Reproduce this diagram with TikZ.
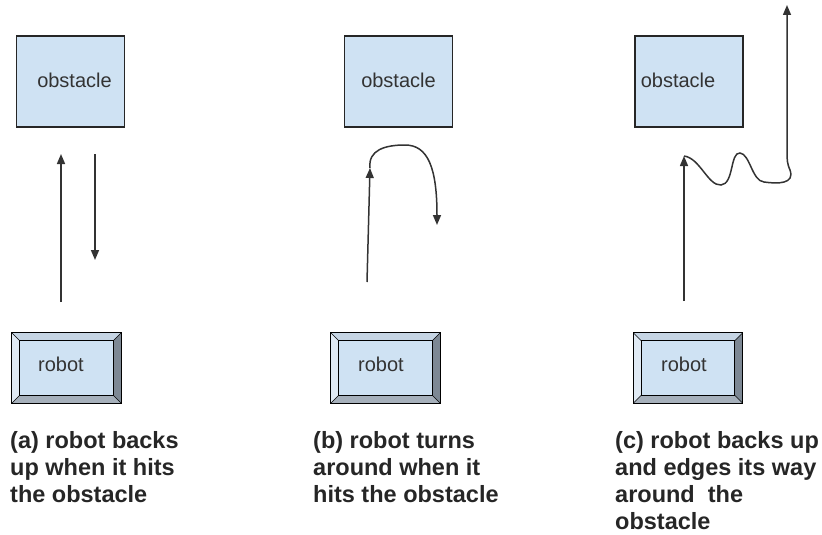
\documentclass[tikz,border=0pt]{standalone}
\usepackage{fontspec}
\setmainfont{Liberation Sans}
\usetikzlibrary{arrows.meta, calc}

\definecolor{boxblue}{HTML}{CFE2F3}
\definecolor{beveltop}{HTML}{C6D5E4}
\definecolor{bevelleft}{HTML}{E0EAF4}
\definecolor{bevelright}{HTML}{7D8894}
\definecolor{bevelbottom}{HTML}{A6B0BB}

% bevel frame drawn round a robot node
\newcommand{\bevelframe}[1]{%
    \fill[beveltop] (#1.north west) -- (#1.north east) -- ($(#1.north east)+(-8,8)$) -- ($(#1.north west)+(8,8)$) -- cycle;
    \fill[bevelleft] (#1.north west) -- ($(#1.north west)+(8,8)$) -- ($(#1.south west)+(8,-8)$) -- (#1.south west) -- cycle;
    \fill[bevelright] (#1.north east) -- ($(#1.north east)+(-8,8)$) -- ($(#1.south east)+(-8,-8)$) -- (#1.south east) -- cycle;
    \fill[bevelbottom] (#1.south west) -- ($(#1.south west)+(8,-8)$) -- ($(#1.south east)+(-8,-8)$) -- (#1.south east) -- cycle;
    \draw[line width=1.3pt] (#1.north west) rectangle (#1.south east);
    \draw[line width=1.3pt] ($(#1.north west)+(8,8)$) rectangle ($(#1.south east)+(-8,-8)$);
    \draw[line width=0.6pt] (#1.north west) -- ($(#1.north west)+(8,8)$)
        (#1.north east) -- ($(#1.north east)+(-8,8)$)
        (#1.south west) -- ($(#1.south west)+(8,-8)$)
        (#1.south east) -- ($(#1.south east)+(-8,-8)$);
}

\begin{document}
\begin{tikzpicture}[
    x=1pt, y=-1pt,
    obstacle/.style={rectangle, draw=black!85, line width=1.2pt, fill=boxblue, minimum width=108pt, minimum height=91pt, inner sep=0pt, font=\fontsize{20}{22}\selectfont, text=black!80},
    robot/.style={rectangle, fill=boxblue, minimum width=109pt, minimum height=70pt, inner sep=0pt},
    robotlabel/.style={font=\fontsize{20}{22}\selectfont, text=black!80},
    caption/.style={anchor=north west, align=left, inner sep=0pt, font=\bfseries\fontsize{23.5}{27}\selectfont, text=black!85},
    move/.style={-{Triangle[length=10pt, width=8pt]}, line width=1.5pt, draw=black!80},
]
    \useasboundingbox (0,0) rectangle (822,535);

    % Obstacles
    \node[obstacle] (obsA) at (70.5,81.5) {\raisebox{3pt}{\hspace{8pt}obstacle}};
    \node[obstacle] (obsB) at (398.5,81.5) {\raisebox{3pt}{obstacle}};
    \node[obstacle] (obsC) at (689,81.5) {\raisebox{3pt}{obstacle\hspace{22pt}}};

    % Robots
    \node[robot] (robA) at (66.5,368) {};
    \node[robot] (robB) at (385.5,368) {};
    \node[robot] (robC) at (688,368) {};
    \bevelframe{robA}
    \bevelframe{robB}
    \bevelframe{robC}
    \node[robotlabel] (robAtext) at (61,364) {robot};
    \node[robotlabel] (robBtext) at (381,364) {robot};
    \node[robotlabel] (robCtext) at (684,364) {robot};

    % Paths
    \coordinate (a-start) at (61,302);
    \coordinate (a-hit) at (61,154);
    \coordinate (a-back) at (95,154);
    \coordinate (a-end) at (95,260);
    \draw[move] (a-start) -- (a-hit);
    \draw[move] (a-back) -- (a-end);

    \coordinate (b-start) at (367,282);
    \coordinate (b-hit) at (370,168);
    \coordinate (b-end) at (437,225);
    \draw[move] (b-start) -- (b-hit);
    \draw[move] (b-hit) .. controls (368,150) and (385,145) .. (405,145)
        .. controls (428,145) and (437,168) .. (b-end);

    \coordinate (c-start) at (684,301);
    \coordinate (c-hit) at (684,156);
    \coordinate (c-end) at (787,5);
    \draw[move] (c-start) -- (c-hit);
    \draw[move] (c-hit) .. controls (700,158) and (708,186) .. (721,185)
        .. controls (734,184) and (730,152) .. (740,153)
        .. controls (750,154) and (752,181) .. (764,182)
        .. controls (778,184) and (795,184) .. (790,170)
        .. controls (787,163) and (787,160) .. (787,150) -- (c-end);

    % Captions
    \node[caption] (capA) at (10,431) {(a) robot backs\\up when it hits\\the obstacle};
    \node[caption] (capB) at (313,431) {(b) robot turns\\around when it\\hits the obstacle};
    \node[caption] (capC) at (615,431) {(c) robot backs up\\and edges its way\\around\ \ the\\obstacle};
\end{tikzpicture}
\end{document}
